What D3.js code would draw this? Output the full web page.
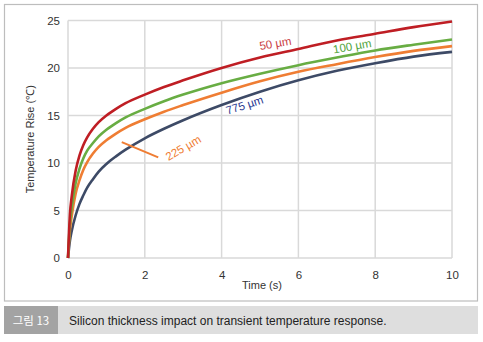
<!DOCTYPE html>
<html>
<head>
<meta charset="utf-8">
<script src="https://cdn.jsdelivr.net/npm/d3@7"></script>
<style>
  body { margin: 0; background: #fff; }
  svg { display: block; font-family: "Liberation Sans", Arial, sans-serif; }
</style>
</head>
<body>
<svg id="chart" width="483" height="342"></svg>
<script>
// time points (s)
const times = [0, 0.05, 0.1, 0.2, 0.3, 0.4, 0.5, 0.65, 0.8, 1, 1.25, 1.5, 2, 2.5, 3, 4, 5, 6, 7, 8, 9, 10];

// temperature rise (C) per silicon thickness
const rise50  = [0, 4.6, 6.6, 9.2, 10.8, 11.9, 12.7, 13.6, 14.3, 15.0, 15.7, 16.3, 17.2, 18.0, 18.7, 20.0, 21.1, 22.0, 22.9, 23.6, 24.3, 24.9];
const rise100 = [0, 3.6, 5.4, 7.9, 9.4, 10.5, 11.3, 12.1, 12.8, 13.5, 14.2, 14.8, 15.7, 16.5, 17.2, 18.4, 19.4, 20.3, 21.1, 21.85, 22.45, 23.0];
const rise225 = [0, 2.9, 4.5, 6.8, 8.2, 9.3, 10.1, 11.0, 11.7, 12.4, 13.1, 13.7, 14.6, 15.4, 16.1, 17.4, 18.6, 19.6, 20.4, 21.15, 21.8, 22.3];
const rise775 = [0, 1.8, 2.9, 4.5, 5.7, 6.6, 7.4, 8.3, 9.1, 9.9, 10.7, 11.4, 12.6, 13.6, 14.5, 16.1, 17.5, 18.7, 19.7, 20.5, 21.2, 21.7];

const xTicks = [0, 2, 4, 6, 8, 10];
const yTicks = [0, 5, 10, 15, 20, 25];

const series = [
    { name: "775 µm", values: rise775, color: "#3d4a66" },
    { name: "225 µm", values: rise225, color: "#ef7d33" },
    { name: "100 µm", values: rise100, color: "#68ad43" },
    { name: "50 µm",  values: rise50,  color: "#bf1e24" },
];

const svg = d3.select("#chart");
const x = d3.scaleLinear().domain([0, 10]).range([68, 452]);
const y = d3.scaleLinear().domain([0, 25]).range([258, 20.5]);

// outer frame
svg.append("rect")
    .attr("x", 4.5).attr("y", 4.5).attr("width", 473).attr("height", 296.5)
    .attr("fill", "none").attr("stroke", "#bdbdbd").attr("stroke-width", 1.2);

// grid
const grid = svg.append("g").attr("stroke", "#d9d9d9").attr("stroke-width", 1.5);
grid.selectAll(".gx").data(xTicks).join("line")
    .attr("x1", d => x(d)).attr("x2", d => x(d))
    .attr("y1", y(0)).attr("y2", y(25));
grid.selectAll(".gy").data(yTicks).join("line")
    .attr("x1", x(0)).attr("x2", x(10))
    .attr("y1", d => y(d)).attr("y2", d => y(d));

// axes (labels only)
const xAxis = svg.append("g")
    .attr("transform", `translate(0,${y(0)})`)
    .call(d3.axisBottom(x).tickValues(xTicks).tickSize(0).tickPadding(13));
const yAxis = svg.append("g")
    .attr("transform", `translate(${x(0)},0)`)
    .call(d3.axisLeft(y).tickValues(yTicks).tickSize(0).tickPadding(8));
[xAxis, yAxis].forEach(a => {
    a.select(".domain").remove();
    a.selectAll("text").attr("fill", "#333").style("font-size", "11.5px");
});

svg.append("text")
    .attr("x", 262).attr("y", 289)
    .attr("text-anchor", "middle")
    .attr("fill", "#333").style("font-size", "11px")
    .text("Time (s)");

svg.append("text")
    .attr("transform", `translate(34,${(y(0) + y(25)) / 2}) rotate(-90)`)
    .attr("text-anchor", "middle")
    .attr("fill", "#333").style("font-size", "11px")
    .text("Temperature Rise (℃)");

// curves
const line = d3.line()
    .x((d, i) => x(times[i]))
    .y(d => y(d))
    .curve(d3.curveMonotoneX);

svg.append("g").selectAll("path")
    .data(series)
    .join("path")
    .attr("d", d => line(d.values))
    .attr("fill", "none")
    .attr("stroke", d => d.color)
    .attr("stroke-width", 2.6);

// leader line for 225 um
svg.append("line")
    .attr("x1", x(1.4)).attr("y1", y(12.2))
    .attr("x2", x(2.35)).attr("y2", y(10.6))
    .attr("stroke", "#ef7d33").attr("stroke-width", 2);

// curve labels
const labels = [
    { text: "50 µm",  t: 5.4,  v: 22.6, rot: -10, color: "#c9403f" },
    { text: "100 µm", t: 7.4,  v: 22.3, rot: -10, color: "#4fa33a" },
    { text: "225 µm", t: 3.0,  v: 11.6, rot: -30, color: "#ef7d33" },
    { text: "775 µm", t: 4.6,  v: 16.1, rot: -18, color: "#2a3990" },
];
svg.append("g").selectAll("text")
    .data(labels)
    .join("text")
    .attr("transform", d => `translate(${x(d.t)},${y(d.v)}) rotate(${d.rot})`)
    .attr("text-anchor", "middle")
    .attr("dy", "0.35em")
    .attr("fill", d => d.color)
    .style("font-size", "11.5px")
    .text(d => d.text);

// caption bar
svg.append("rect")
    .attr("x", 4).attr("y", 306).attr("width", 474).attr("height", 28)
    .attr("fill", "#dedede");
svg.append("rect")
    .attr("x", 4).attr("y", 306).attr("width", 54).attr("height", 28)
    .attr("fill", "#a3a3a3");
svg.append("text")
    .attr("x", 31).attr("y", 324.5)
    .attr("text-anchor", "middle")
    .attr("fill", "#fff")
    .style("font-family", "'Noto Sans CJK KR', sans-serif")
    .style("font-size", "11.5px")
    .text("그림 13");
svg.append("text")
    .attr("x", 69).attr("y", 324.5)
    .attr("fill", "#222")
    .style("font-size", "12px")
    .text("Silicon thickness impact on transient temperature response.");
</script>
</body>
</html>
